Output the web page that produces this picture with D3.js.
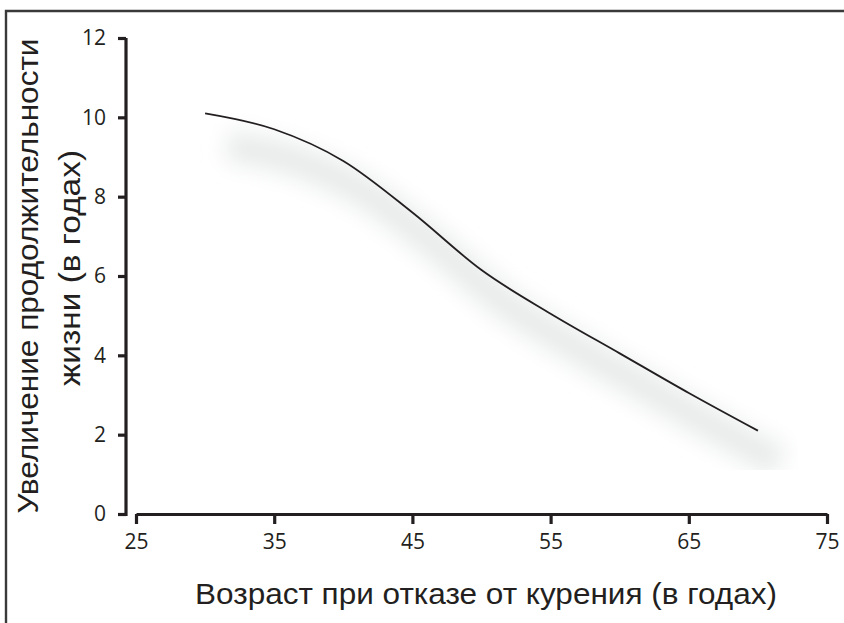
<!DOCTYPE html>
<html>
<head>
<meta charset="utf-8">
<script src="https://cdn.jsdelivr.net/npm/d3@7"></script>
<style>
  body { margin: 0; background: #fff; }
  svg { display: block; }
</style>
</head>
<body>
<svg id="chart" width="844" height="623"></svg>
<script>
// ages at quitting and the life expectancy gained
var ages = [30, 35, 40, 45, 50, 55, 60, 65, 70];
var gain = [10.1, 9.7, 8.9, 7.6, 6.15, 5.05, 4.05, 3.05, 2.1];

var xTicks = [25, 35, 45, 55, 65, 75];
var yTicks = [0, 2, 4, 6, 8, 10, 12];

var xTitle = "Возраст при отказе от курения (в годах)";
var yTitle = ["Увеличение продолжительности", "жизни (в годах)"];

var ink = "#231f20";
var titleFont = "'Liberation Sans', Arial, sans-serif";

var svg = d3.select("#chart");

// frame round the figure (only top and left edges are visible)
svg.append("path")
   .attr("d", "M6,623 V11 H844")
   .attr("fill", "none")
   .attr("stroke", "#3a3a3a")
   .attr("stroke-width", 2.4);

var x = d3.scaleLinear().domain([25, 75]).range([136, 827]);
var y = d3.scaleLinear().domain([0, 12]).range([514, 38]);

var pts = ages.map(function(a, i) { return [a, gain[i]]; });

var line = d3.line()
   .x(function(d) { return x(d[0]); })
   .y(function(d) { return y(d[1]); })
   .curve(d3.curveMonotoneX);

// soft shadow under the curve
var defs = svg.append("defs");
defs.append("filter")
   .attr("id", "blur")
   .attr("x", "-20%").attr("y", "-20%")
   .attr("width", "140%").attr("height", "140%")
   .append("feGaussianBlur")
   .attr("stdDeviation", 11);

defs.append("clipPath").attr("id", "shadowClip")
   .append("rect")
   .attr("x", 0).attr("y", 0)
   .attr("width", 798).attr("height", 470);

svg.append("g")
   .attr("clip-path", "url(#shadowClip)")
   .append("path")
   .datum(pts)
   .attr("d", line)
   .attr("transform", "translate(22,32)")
   .attr("fill", "none")
   .attr("stroke", "#e9ebeb")
   .attr("stroke-width", 32)
   .attr("filter", "url(#blur)");

// axes
var xAxis = svg.append("g")
   .attr("transform", "translate(0,514)")
   .call(d3.axisBottom(x).tickValues(xTicks).tickSize(10).tickPadding(10).tickSizeOuter(0));

var yAxis = svg.append("g")
   .attr("transform", "translate(126,0)")
   .call(d3.axisLeft(y).tickValues(yTicks).tickSize(8).tickPadding(12).tickSizeOuter(0));

// y domain ends a little below the x axis line
yAxis.select(".domain").attr("d", "M0,38V516");

svg.selectAll(".domain, .tick line")
   .attr("stroke", ink)
   .style("stroke-width", "3.2px");

svg.selectAll(".tick text")
   .attr("fill", ink)
   .style("font-size", "21px")
   .style("font-family", "'Open Sans', sans-serif");

// the curve
svg.append("path")
   .datum(pts)
   .attr("d", line)
   .attr("fill", "none")
   .attr("stroke", ink)
   .attr("stroke-width", 1.8);

// titles
svg.append("text")
   .attr("x", 486)
   .attr("y", 604)
   .attr("text-anchor", "middle")
   .attr("fill", ink)
   .attr("textLength", 582)
   .attr("lengthAdjust", "spacingAndGlyphs")
   .style("font-family", titleFont)
   .style("font-size", "30px")
   .text(xTitle);

svg.append("text")
   .attr("transform", "translate(38,276) rotate(-90)")
   .attr("text-anchor", "middle")
   .attr("fill", ink)
   .attr("textLength", 475)
   .attr("lengthAdjust", "spacingAndGlyphs")
   .style("font-family", titleFont)
   .style("font-size", "29px")
   .text(yTitle[0]);

svg.append("text")
   .attr("transform", "translate(80,268) rotate(-90)")
   .attr("text-anchor", "middle")
   .attr("fill", ink)
   .attr("textLength", 236)
   .attr("lengthAdjust", "spacingAndGlyphs")
   .style("font-family", titleFont)
   .style("font-size", "29px")
   .text(yTitle[1]);
</script>
</body>
</html>
